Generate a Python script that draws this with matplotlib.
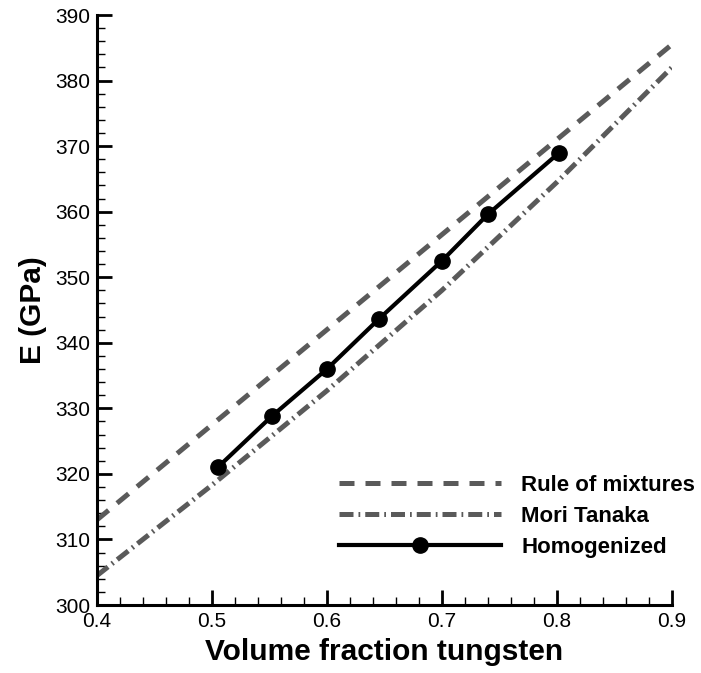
import matplotlib.pyplot as plt
from matplotlib.ticker import MultipleLocator

plt.rcParams['font.family'] = ['Liberation Sans', 'DejaVu Sans']

# Rule of mixtures (linear)
rom_vf = [0.4, 0.9]
rom_E = [313.0, 385.5]

# Mori Tanaka
mt_vf = [0.4, 0.5, 0.6, 0.7, 0.8, 0.9]
mt_E = [304.5, 318.3, 332.7, 348.0, 364.5, 382.0]

# Homogenized
hom_vf = [0.505, 0.552, 0.600, 0.645, 0.700, 0.740, 0.802]
hom_E = [321.0, 328.8, 336.0, 343.6, 352.5, 359.6, 369.0]

fig = plt.figure(figsize=(7.01, 6.73), dpi=100)
ax = fig.add_axes([0.1384, 0.101, 0.820, 0.8767])

gray = '#5a5a5a'
ax.plot(rom_vf, rom_E, color=gray, lw=3.6, dashes=(3.0, 2.2), label='Rule of mixtures')
ax.plot(mt_vf, mt_E, color=gray, lw=3.6, dashes=(2.8, 1.0, 0.35, 1.0), label='Mori Tanaka')
ax.plot(hom_vf, hom_E, color='black', lw=3.0, marker='o', ms=11, label='Homogenized')

ax.set_xlim(0.4, 0.9)
ax.set_ylim(300, 390)
ax.xaxis.set_major_locator(MultipleLocator(0.1))
ax.xaxis.set_minor_locator(MultipleLocator(0.02))
ax.yaxis.set_major_locator(MultipleLocator(10))
ax.yaxis.set_minor_locator(MultipleLocator(2))

for s in ['top', 'right']:
    ax.spines[s].set_visible(False)
for s in ['left', 'bottom']:
    ax.spines[s].set_linewidth(2.2)

ax.tick_params(which='major', direction='in', length=11, width=2, labelsize=15)
ax.tick_params(which='minor', direction='in', length=6, width=1)
ax.tick_params(axis='x', pad=5)
ax.tick_params(axis='y', pad=5)

ax.set_xlabel('Volume fraction tungsten', fontsize=21.5, fontweight='bold', labelpad=5)
ax.set_ylabel('E (GPa)', fontsize=21.5, fontweight='bold', labelpad=6)

leg = ax.legend(loc='lower right', bbox_to_anchor=(1.075, 0.046), frameon=False,
                handlelength=7.3, handletextpad=0.9, labelspacing=0.45,
                prop={'size': 16, 'weight': 'bold'})

fig.savefig('out.png', dpi=100)
